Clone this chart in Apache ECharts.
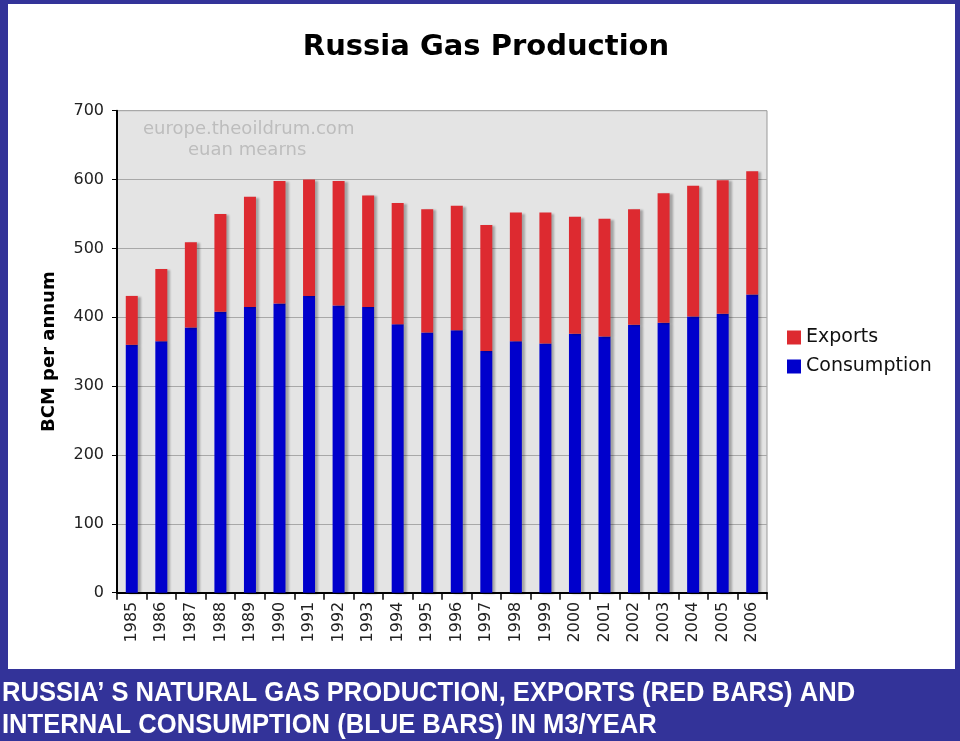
<!DOCTYPE html>
<html>
<head>
<meta charset="utf-8">
<script src="https://cdn.jsdelivr.net/npm/echarts@6/dist/echarts.min.js"></script>
<style>
html,body{margin:0;padding:0;background:#333399;}
#chart{width:960px;height:741px;}
</style>
</head>
<body>
<div id="chart"></div>
<script>
const years = ['1985','1986','1987','1988','1989','1990','1991','1992','1993','1994','1995','1996','1997','1998','1999','2000','2001','2002','2003','2004','2005','2006'];
const consumption = [360,365,385,408,415,420,431,417,415,390,378,381,351,365,362,376,372,389,392,401,405,433];
const totalProduction = [431,470,509,550,575,598,600,598,577,566,557,562,534,552,552,546,543,557,580,591,599,612];
const exportsVals = totalProduction.map((t,i)=>t-consumption[i]);
const yTicks = [0,100,200,300,400,500,600,700];
const captionLines = ["RUSSIA’ S NATURAL GAS PRODUCTION, EXPORTS (RED BARS) AND","INTERNAL CONSUMPTION (BLUE BARS) IN M3/YEAR"];

const chart = echarts.init(document.getElementById('chart'));
const axisFont = 'DejaVu Sans, Verdana, sans-serif';
chart.setOption({
  animation:false,
  backgroundColor:'#333399',
  title:[
    {text:'Russia Gas Production',left:481,top:28,textAlign:'center',
     textStyle:{fontSize:29,fontWeight:'bold',color:'#000',fontFamily:axisFont}}
  ],
  graphic:[
    {type:'rect',z:-10,shape:{x:8,y:4,width:947,height:665},style:{fill:'#fff'}},
    {type:'text',x:143,y:130,scaleX:1.06,z:10,style:{text:'europe.theoildrum.com',fill:'#bdbdbd',verticalAlign:'middle',font:'17px DejaVu Sans, Verdana, sans-serif'}},
    {type:'text',x:188,y:151,scaleX:1.06,z:10,style:{text:'euan mearns',fill:'#bdbdbd',verticalAlign:'middle',font:'17px DejaVu Sans, Verdana, sans-serif'}},
    {type:'text',x:2,y:693,scaleX:0.913,z:10,style:{text:captionLines[0],fill:'#fff',verticalAlign:'middle',font:'bold 28px Liberation Sans, Arial, sans-serif'}},
    {type:'text',x:2,y:725,scaleX:0.913,z:10,style:{text:captionLines[1],fill:'#fff',verticalAlign:'middle',font:'bold 28px Liberation Sans, Arial, sans-serif'}}
  ],
  legend:{
    orient:'vertical',left:782,top:323,itemWidth:14,itemHeight:14,itemGap:10,
    data:['Exports','Consumption'],icon:'rect',
    textStyle:{fontSize:19,color:'#111',fontFamily:axisFont}
  },
  grid:{left:117,right:193,top:110.7,bottom:148.3,show:true,backgroundColor:'#e4e4e4',borderColor:'#999',borderWidth:1},
  xAxis:{
    type:'category',data:years,
    axisLine:{lineStyle:{color:'#000',width:2}},
    axisTick:{show:true,length:7,lineStyle:{color:'#000',width:1.5}},
    axisLabel:{rotate:90,fontSize:16,color:'#222',margin:9,fontFamily:axisFont},
    splitLine:{show:false}
  },
  yAxis:{
    type:'value',min:0,max:700,interval:100,
    name:'BCM per annum',nameLocation:'middle',nameGap:59,nameRotate:90,
    nameTextStyle:{fontSize:18,fontWeight:'bold',color:'#000',fontFamily:axisFont},
    axisLine:{show:true,lineStyle:{color:'#000',width:2}},
    axisTick:{show:true,length:5,lineStyle:{color:'#000'}},
    axisLabel:{fontSize:16,color:'#222',margin:13,fontFamily:axisFont,
      formatter:v=>yTicks.includes(v)?String(v):''},
    splitLine:{lineStyle:{color:'#a8a8a8',width:1}}
  },
  series:[
    {name:'Consumption',type:'bar',stack:'t',data:consumption,barWidth:12,
     itemStyle:{color:'#0000cc',shadowColor:'rgba(0,0,0,0.28)',shadowOffsetX:3,shadowOffsetY:1,shadowBlur:2}},
    {name:'Exports',type:'bar',stack:'t',data:exportsVals,barWidth:12,
     itemStyle:{color:'#dd2a30',shadowColor:'rgba(0,0,0,0.28)',shadowOffsetX:3,shadowOffsetY:1,shadowBlur:2}}
  ]
});
</script>
</body>
</html>
